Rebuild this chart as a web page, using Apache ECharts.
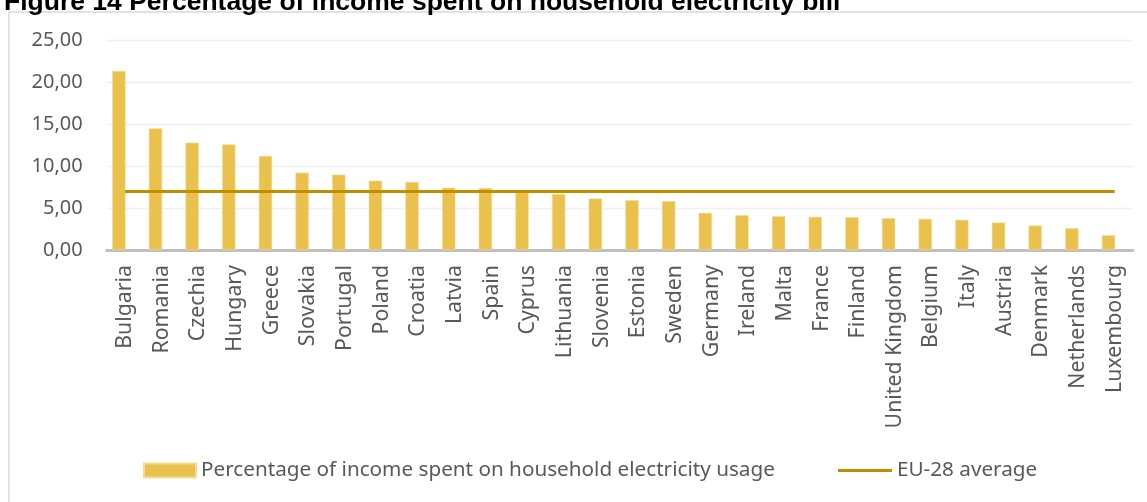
<!DOCTYPE html>
<html>
<head>
<meta charset="utf-8">
<script src="https://cdn.jsdelivr.net/npm/echarts@6/dist/echarts.min.js"></script>
<style>
html,body{margin:0;padding:0;background:#fff;}
#chart{width:1147px;height:502px;}
</style>
</head>
<body>
<div id="chart"></div>
<script>
const titleText = 'Figure 14 Percentage of income spent on household electricity bill';
const categories = ['Bulgaria','Romania','Czechia','Hungary','Greece','Slovakia','Portugal','Poland','Croatia','Latvia','Spain','Cyprus','Lithuania','Slovenia','Estonia','Sweden','Germany','Ireland','Malta','France','Finland','United Kingdom','Belgium','Italy','Austria','Denmark','Netherlands','Luxembourg'];
const incomeShare = [21.38,14.53,12.82,12.62,11.23,9.24,9.00,8.28,8.12,7.44,7.41,7.10,6.69,6.15,5.96,5.84,4.44,4.16,4.04,3.96,3.92,3.80,3.72,3.60,3.28,2.92,2.60,1.76];
const euAverage = [7.0,7.0,7.0,7.0,7.0,7.0,7.0,7.0,7.0,7.0,7.0,7.0,7.0,7.0,7.0,7.0,7.0,7.0,7.0,7.0,7.0,7.0,7.0,7.0,7.0,7.0,7.0,7.0];
const placeholder = [null,null,null,null,null,null,null,null,null,null,null,null,null,null,null,null,null,null,null,null,null,null,null,null,null,null,null,null];
const yTicks = {min:0, max:25, interval:5};
const seriesNames = ['Percentage of income spent on household electricity usage','EU-28 average'];

const chart = echarts.init(document.getElementById('chart'), null, {renderer:'canvas'});
const txt = '#595959';
chart.setOption({
  animation:false,
  backgroundColor:'#ffffff',
  title:{
    text:titleText, left:-1, top:-16, padding:5,
    textStyle:{fontFamily:'Liberation Sans, Arial, sans-serif', fontWeight:'bold', fontSize:26.5, color:'#000'}
  },
  graphic:[{
    type:'rect', shape:{x:9, y:12, width:1200, height:600},
    style:{fill:'none', stroke:'#d9d9d9', lineWidth:1.5}, silent:true, z:-10
  }],
  legend:[{
    data:[seriesNames[0]], left:143, top:460, padding:0,
    itemWidth:52, itemHeight:14, itemGap:10,
    icon:'rect',
    textStyle:{fontFamily:'Noto Sans', fontSize:20.7, color:txt}
  },{
    data:[{name:seriesNames[1], icon:'rect'}], left:838, top:460, padding:0,
    itemWidth:54, itemHeight:3,
    textStyle:{fontFamily:'Noto Sans', fontSize:20.7, color:txt}
  }],
  grid:{left:106.7, right:14, top:40.7, bottom:252},
  xAxis:{
    type:'category', data:categories,
    axisLine:{lineStyle:{color:'#bfbfbf', width:3}},
    axisTick:{show:false},
    axisLabel:{interval:0, rotate:90, margin:15, color:txt, fontFamily:'Noto Sans', fontSize:21.3}
  },
  yAxis:{
    type:'value', min:yTicks.min, max:yTicks.max, interval:yTicks.interval,
    axisLine:{show:false}, axisTick:{show:false},
    axisLabel:{margin:24, color:txt, fontFamily:'Noto Sans', fontSize:20,
      formatter:v=>v.toFixed(2).replace('.',',')},
    splitLine:{lineStyle:{color:'#f0f0f0', width:1.3}}
  },
  series:[{
    name:seriesNames[0], type:'bar', data:incomeShare,
    barWidth:13.3, barGap:'-7%',
    itemStyle:{color:'#eac14d', borderColor:'#f3dc9a', borderWidth:0.6},
    z:2
  },{
    name:'_gap', type:'bar', data:placeholder, barWidth:13.3, barGap:'-7%', silent:true
  },{
    name:seriesNames[1], type:'line', data:euAverage,
    showSymbol:false, symbol:'none',
    lineStyle:{color:'#bf8f00', width:3},
    itemStyle:{color:'#bf8f00'},
    z:5
  }]
});
</script>
</body>
</html>
